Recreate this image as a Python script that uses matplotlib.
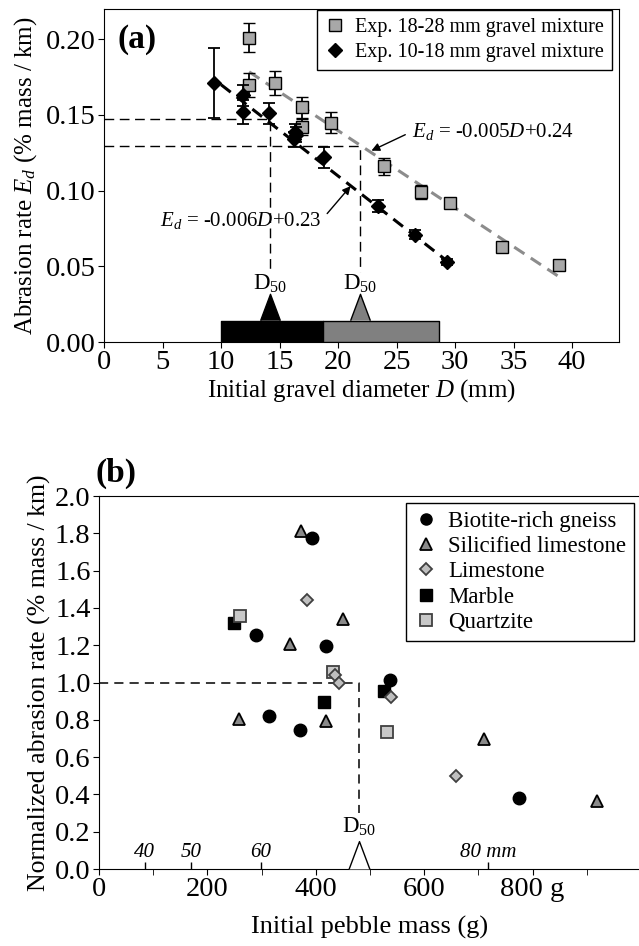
import numpy as np
import matplotlib
matplotlib.use('Agg')
import matplotlib.pyplot as plt
from matplotlib.lines import Line2D

plt.rcParams['font.family'] = ['Liberation Serif', 'DejaVu Serif']
plt.rcParams['mathtext.fontset'] = 'custom'
plt.rcParams['mathtext.rm'] = 'Liberation Serif'
plt.rcParams['mathtext.it'] = 'Liberation Serif:italic'
plt.rcParams['mathtext.bf'] = 'Liberation Serif:bold'

#%% data (a): abrasion rate vs initial diameter
coarse_D = [12.4, 12.4, 14.6, 16.9, 16.9, 19.4, 23.9, 27.1, 29.6, 34.0, 38.9]
coarse_E = [0.201, 0.170, 0.171, 0.155, 0.142, 0.145, 0.116, 0.099, 0.092, 0.063, 0.051]
coarse_err = [0.0095, 0.008, 0.008, 0.007, 0.005, 0.007, 0.0055, 0.0045, 0.003, 0.0, 0.0]

fine_D = [9.4, 11.9, 11.9, 14.1, 16.3, 16.4, 16.2, 18.8, 23.4, 26.6, 29.3]
fine_E = [0.171, 0.163, 0.152, 0.151, 0.139, 0.137, 0.134, 0.122, 0.090, 0.071, 0.053]
fine_err = [0.023, 0.007, 0.008, 0.007, 0.005, 0.005, 0.005, 0.007, 0.004, 0.003, 0.002]

fit_coarse_D = [12.4, 38.9]
fit_coarse_E = [0.1785, 0.043]
fit_fine_D = [10.0, 29.4]
fit_fine_E = [0.170, 0.053]

d50_D = [14.2, 21.9]
d50_E = [0.147, 0.1295]
range_fine = [10.0, 18.7]
range_coarse = [18.7, 28.6]

#%% data (b): normalized abrasion rate vs pebble mass
gneiss_m = [393, 289, 418, 536, 314, 371, 774]
gneiss_r = [1.777, 1.254, 1.198, 1.014, 0.823, 0.743, 0.380]
silic_m = [373, 450, 353, 258, 418, 711, 918]
silic_r = [1.814, 1.341, 1.205, 0.805, 0.795, 0.696, 0.366]
limes_m = [384, 436, 442, 538, 659]
limes_r = [1.441, 1.039, 0.996, 0.921, 0.500]
marble_m = [249, 526, 416]
marble_r = [1.321, 0.957, 0.895]
quartz_m = [261, 431, 531]
quartz_r = [1.359, 1.054, 0.737]

d50_mass = 480
mm_mass = [84, 170, 299, 718]
mm_labels = ['40', '50', '60', '80 mm']

tri = [(-0.75, -1), (0, 1), (0.75, -1)]

fig = plt.figure(figsize=(6.39, 9.46), dpi=100)

#%% panel (a)
ax1 = fig.add_axes([104/639, 1-342/946, 515/639, 333/946])
ax1.plot(fit_coarse_D, fit_coarse_E, color='#8c8c8c', lw=2.2, ls=(0, (4, 2.5)), zorder=2)
ax1.plot(fit_fine_D, fit_fine_E, color='black', lw=2.2, ls=(0, (4, 2.5)), zorder=2)

for d, e in zip(d50_D, d50_E):
    ax1.plot([0, d, d], [e, e, 0.046], color='black', lw=1, ls=(0, (7, 4)), zorder=1)
    ax1.text(d, 0.031, 'D$_{50}$', ha='center', va='bottom', fontsize=16.5)

ax1.errorbar(coarse_D, coarse_E, yerr=coarse_err, fmt='s', ms=8.5, mfc='#a8a8a8', mec='black',
             mew=1, ecolor='black', elinewidth=1.3, capsize=4, capthick=1.3, zorder=3)
ax1.errorbar(fine_D, fine_E, yerr=fine_err, fmt='D', ms=6.8, mfc='black', mec='black',
             ecolor='black', elinewidth=1.3, capsize=4, capthick=1.3, zorder=4)

ax1.broken_barh([(range_fine[0], range_fine[1]-range_fine[0])], (0, 0.014),
                facecolors='black', edgecolor='black', lw=1, zorder=3)
ax1.broken_barh([(range_coarse[0], range_coarse[1]-range_coarse[0])], (0, 0.014),
                facecolors='#808080', edgecolor='black', lw=1, zorder=3)
ax1.plot([d50_D[0]], [0.023], marker=tri, ms=19, mfc='black', mec='black', mew=1, zorder=4)
ax1.plot([d50_D[1]], [0.023], marker=tri, ms=19, mfc='#808080', mec='black', mew=1, zorder=4)

ax1.annotate(r'$E_d$ = -0.005$D$+0.24', xy=(22.85, 0.1264), xytext=(26.3, 0.139),
             ha='left', va='center', fontsize=15,
             arrowprops=dict(arrowstyle='-|>', color='black', lw=1, mutation_scale=12,
                             relpos=(0, 0.5), shrinkA=3, shrinkB=0))
ax1.annotate(r'$E_d$ = -0.006$D$+0.23', xy=(21.07, 0.103), xytext=(4.8, 0.0806),
             ha='left', va='center', fontsize=15,
             arrowprops=dict(arrowstyle='-|>', color='black', lw=1, mutation_scale=12,
                             relpos=(1, 0.5), shrinkA=3, shrinkB=0))

ax1.text(0.027, 0.955, '(a)', transform=ax1.transAxes, fontsize=24, fontweight='bold',
         ha='left', va='top')

h1 = [Line2D([], [], marker='s', ls='none', ms=8.5, mfc='#a8a8a8', mec='black'),
      Line2D([], [], marker='D', ls='none', ms=6.8, mfc='black', mec='black')]
ax1.legend(h1, ['Exp. 18-28 mm gravel mixture', 'Exp. 10-18 mm gravel mixture'],
           loc='upper right', bbox_to_anchor=(0.986, 0.997), borderaxespad=0, fontsize=14.5,
           fancybox=False, edgecolor='black', framealpha=1, handlelength=1.0,
           handletextpad=0.5, labelspacing=0.3, borderpad=0.4)

ax1.set_xlim(0, 44)
ax1.set_ylim(0, 0.22)
ax1.set_xticks(np.arange(0, 41, 5))
ax1.set_yticks(np.arange(0, 0.201, 0.05))
ax1.set_yticklabels(['%.2f' % v for v in np.arange(0, 0.201, 0.05)])
ax1.tick_params(labelsize=20.5, length=4, direction='out', pad=2)
ax1.set_xlabel('Initial gravel diameter $D$ (mm)', fontsize=18, labelpad=1)
ax1.set_ylabel('Abrasion rate $E_d$ (% mass / km)', fontsize=18, labelpad=5)

#%% panel (b)
ax2 = fig.add_axes([99/639, 1-869/946, 542/639, 373/946])
ax2.plot([0, d50_mass, d50_mass], [1, 1, 0.3], color='black', lw=1.1, ls=(0, (6, 4)), zorder=1)

ax2.plot(silic_m, silic_r, '^', ms=9, mfc='#8a8a8a', mec='black', mew=1.3, zorder=3)
ax2.plot(gneiss_m, gneiss_r, 'o', ms=9, mfc='black', mec='black', zorder=4)
ax2.plot(marble_m, marble_r, 's', ms=8.5, mfc='black', mec='black', zorder=5)
ax2.plot(quartz_m, quartz_r, 's', ms=8.5, mfc='#c8c8c8', mec='#404040', mew=1.3, zorder=6)
ax2.plot(limes_m, limes_r, 'D', ms=6.5, mfc='#bfbfbf', mec='#404040', mew=1.3, zorder=7)

ax2.plot([d50_mass], [0.0755], marker=tri, ms=20, mfc='white', mec='black', mew=1,
         clip_on=False, zorder=3)
ax2.text(d50_mass, 0.165, 'D$_{50}$', ha='center', va='bottom', fontsize=16.5)

ax2.plot(mm_mass, np.zeros(len(mm_mass)), ls='none', marker=2, ms=5, color='black', mew=1)
for m, lab in zip(mm_mass, mm_labels):
    ax2.text(m, 0.035, lab, ha='center', va='bottom', fontsize=15, style='italic')

ax2.text(-0.006, 1.02, '(b)', transform=ax2.transAxes, fontsize=24, fontweight='bold',
         ha='left', va='bottom')

h2 = [Line2D([], [], marker='o', ls='none', ms=8, mfc='black', mec='black'),
      Line2D([], [], marker='^', ls='none', ms=8, mfc='#8a8a8a', mec='black', mew=1.3),
      Line2D([], [], marker='D', ls='none', ms=6, mfc='#bfbfbf', mec='#404040', mew=1.3),
      Line2D([], [], marker='s', ls='none', ms=8, mfc='black', mec='black'),
      Line2D([], [], marker='s', ls='none', ms=8, mfc='#c8c8c8', mec='#404040', mew=1.3)]
ax2.legend(h2, ['Biotite-rich gneiss', 'Silicified limestone', 'Limestone', 'Marble', 'Quartzite'],
           loc='upper right', bbox_to_anchor=(0.988, 0.981), borderaxespad=0, fontsize=16.5,
           fancybox=False, edgecolor='black', framealpha=1, handlelength=1.0,
           handletextpad=0.5, labelspacing=0.18, borderpad=0.35)

ax2.set_xlim(0, 1000)
ax2.set_ylim(0, 2.0)
ax2.set_xticks([0, 200, 400, 600, 800])
ax2.set_xticklabels(['0', '200', '400', '600', '800 g'])
ax2.set_xticks([100, 300, 500, 700, 900], minor=True)
ax2.set_yticks(np.arange(0, 2.01, 0.2))
ax2.set_yticklabels(['%.1f' % v for v in np.arange(0, 2.01, 0.2)])
ax2.tick_params(which='both', labelsize=20.5, length=4, direction='out', pad=2)
ax2.spines['right'].set_visible(False)
ax2.set_xlabel('Initial pebble mass (g)', fontsize=19, labelpad=10)
ax2.set_ylabel('Normalized abrasion rate (% mass / km)', fontsize=18.5, labelpad=3)

fig.savefig('out.png', dpi=100)
